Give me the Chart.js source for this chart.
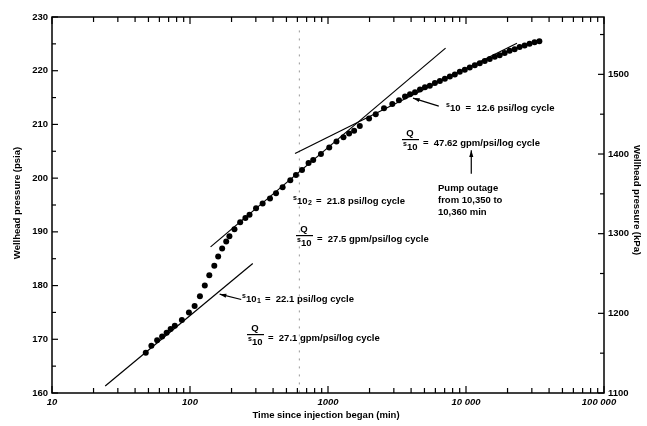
<!DOCTYPE html>
<html>
<head>
<meta charset="utf-8">
<script src="https://cdn.jsdelivr.net/npm/chart.js@4"></script>
<style>html,body{margin:0;background:#fff;}</style>
</head>
<body>
<canvas id="chart" width="647" height="426"></canvas>
<script>
// measured points: time since injection began (min) / wellhead pressure (psia)
var timeMin = [47.8, 52.5, 57.8, 62.8, 67.7, 72.4, 77.6, 87.3, 98.2, 108, 118, 128, 138, 150, 160,
  171, 183, 193, 210, 231, 252, 270, 301, 336, 380, 420, 469, 533, 586, 648, 723, 781, 889,
  1021, 1152, 1294, 1422, 1546, 1700, 1985, 2218, 2546, 2924, 3268, 3614, 3929, 4270, 4640,
  5040, 5470, 5950, 6470, 7030, 7640, 8300, 9020, 9800, 10650, 11580, 12580, 13670, 14860,
  16150, 17540, 19060, 20710, 22520, 24470, 26590, 28890, 31400, 34000];
var pressurePsi = [167.5, 168.8, 169.8, 170.5, 171.2, 171.9, 172.5, 173.6, 175.0, 176.2, 178.0, 180.0,
  181.9, 183.7, 185.4, 186.9, 188.2, 189.2, 190.5, 191.8, 192.6, 193.2, 194.4, 195.3, 196.2, 197.2,
  198.3, 199.6, 200.6, 201.5, 202.8, 203.4, 204.5, 205.7, 206.8, 207.6, 208.3, 208.8, 209.7, 211.1,
  211.9, 213.0, 213.8, 214.5, 215.2, 215.6, 216.0, 216.5, 216.9, 217.2, 217.7, 218.1, 218.5, 218.9,
  219.3, 219.8, 220.2, 220.6, 221.0, 221.4, 221.8, 222.2, 222.6, 222.9, 223.3, 223.7, 224.0, 224.4,
  224.7, 225.0, 225.3, 225.5];

// straight-line fits (semi-log)
var fit1Time = [24.3, 285];   var fit1Psi = [161.3, 184.1];
var fit2Time = [141, 7110];   var fit2Psi = [187.2, 224.2];
var fit3Time = [577, 23400];  var fit3Psi = [204.6, 225.1];
var markTime = [620, 620];    var markPsi = [227.5, 160];

var xTicks = [10, 100, 1000, 10000, 100000];
var xTickLabels = ['10', '100', '1000', '10 000', '100 000'];
var psiTicks = [160, 170, 180, 190, 200, 210, 220, 230];
var kpaTicks = [1100, 1200, 1300, 1400, 1500];

function pts(xs, ys) {
  return xs.map(function (x, i) { return { x: x, y: ys[i] }; });
}

var BOLD = 'bold 9.5px "Liberation Sans", Arial, sans-serif';

function drawS10(ctx, x, y, sub) {
  ctx.textAlign = 'left';
  ctx.textBaseline = 'middle';
  ctx.font = 'bold 7px "Liberation Sans", Arial, sans-serif';
  ctx.fillText('s', x, y - 1);
  ctx.font = BOLD;
  ctx.fillText('10', x + 4, y + 2);
  var w = x + 4 + ctx.measureText('10').width;
  if (sub) {
    ctx.font = 'bold 7px "Liberation Sans", Arial, sans-serif';
    ctx.fillText(sub, w + 0.5, y + 4);
    w += ctx.measureText(sub).width + 0.5;
  }
  return w;
}

function drawFrac(ctx, x, y, rest) {
  // Q over s10
  ctx.fillStyle = '#000';
  ctx.font = BOLD;
  ctx.textAlign = 'center';
  ctx.textBaseline = 'middle';
  ctx.fillText('Q', x + 8, y - 9);
  ctx.fillRect(x, y - 3, 17, 1.2);
  drawS10(ctx, x + 1, y + 3);
  ctx.font = BOLD;
  ctx.textAlign = 'left';
  ctx.fillText(rest, x + 21, y + 1);
}

function arrow(ctx, x1, y1, x2, y2) {
  // from (x1,y1) to tip (x2,y2)
  ctx.beginPath();
  ctx.moveTo(x1, y1);
  ctx.lineTo(x2, y2);
  ctx.lineWidth = 1.2;
  ctx.stroke();
  var a = Math.atan2(y2 - y1, x2 - x1);
  ctx.beginPath();
  ctx.moveTo(x2, y2);
  ctx.lineTo(x2 - 7 * Math.cos(a - 0.3), y2 - 7 * Math.sin(a - 0.3));
  ctx.lineTo(x2 - 7 * Math.cos(a + 0.3), y2 - 7 * Math.sin(a + 0.3));
  ctx.closePath();
  ctx.fill();
}

var frame = {
  id: 'frame',
  afterDraw: function (chart) {
    var ctx = chart.ctx;
    var a = chart.chartArea;
    var sx = chart.scales.x, sy = chart.scales.y, sk = chart.scales.y2;
    ctx.save();
    ctx.strokeStyle = '#000';
    ctx.fillStyle = '#000';

    // box
    ctx.lineWidth = 1.5;
    ctx.strokeRect(a.left, a.top, a.right - a.left, a.bottom - a.top);

    // log ticks, bottom and top, pointing inward
    ctx.lineWidth = 1.2;
    for (var d = 10; d <= 100000; d *= 10) {
      for (var m = 1; m <= 9; m++) {
        if (d === 100000 && m > 1) break;
        var px = sx.getPixelForValue(d * m);
        var len = m === 1 ? 7 : 5;
        ctx.beginPath();
        ctx.moveTo(px, a.bottom); ctx.lineTo(px, a.bottom - len);
        ctx.moveTo(px, a.top); ctx.lineTo(px, a.top + len);
        ctx.stroke();
      }
    }
    // left psi ticks
    for (var p = 160; p <= 230; p += 5) {
      var py = sy.getPixelForValue(p);
      ctx.beginPath();
      ctx.moveTo(a.left, py); ctx.lineTo(a.left + (p % 10 === 0 ? 6 : 4), py);
      ctx.stroke();
    }
    // right kPa ticks
    for (var k = 1100; k <= 1550; k += 50) {
      var ky = sk.getPixelForValue(k);
      ctx.beginPath();
      ctx.moveTo(a.right, ky); ctx.lineTo(a.right - (k % 100 === 0 ? 6 : 4), ky);
      ctx.stroke();
    }

    // tick labels
    ctx.font = BOLD;
    ctx.textBaseline = 'middle';
    ctx.textAlign = 'right';
    psiTicks.forEach(function (v) {
      ctx.fillText(String(v), a.left - 4, sy.getPixelForValue(v));
    });
    ctx.textAlign = 'left';
    kpaTicks.forEach(function (v) {
      ctx.fillText(String(v), a.right + 4, sk.getPixelForValue(v));
    });
    ctx.font = 'italic bold 9.5px "Liberation Sans", Arial, sans-serif';
    ctx.textAlign = 'center';
    xTicks.forEach(function (v, i) {
      ctx.fillText(xTickLabels[i], sx.getPixelForValue(v) - (i === 4 ? 5 : 0), a.bottom + 9);
    });

    // axis titles
    ctx.font = BOLD;
    ctx.fillText('Time since injection began (min)', 326, 415);
    ctx.save();
    ctx.translate(17, 203);
    ctx.rotate(-Math.PI / 2);
    ctx.fillText('Wellhead pressure (psia)', 0, 0);
    ctx.restore();
    ctx.save();
    ctx.translate(637, 200);
    ctx.rotate(Math.PI / 2);
    ctx.fillText('Wellhead pressure (kPa)', 0, 0);
    ctx.restore();

    // annotations
    var e;
    e = drawS10(ctx, 293, 199, '2');
    ctx.font = BOLD; ctx.fillText('=  21.8 psi/log cycle', e + 4, 201);
    drawFrac(ctx, 296, 238, '=  27.5 gpm/psi/log cycle');

    e = drawS10(ctx, 242, 297, '1');
    ctx.font = BOLD; ctx.fillText('=  22.1 psi/log cycle', e + 4, 299);
    drawFrac(ctx, 247, 337, '=  27.1 gpm/psi/log cycle');

    e = drawS10(ctx, 446, 106);
    ctx.font = BOLD; ctx.fillText('=  12.6 psi/log cycle', e + 5, 108);
    drawFrac(ctx, 402, 142, '=  47.62 gpm/psi/log cycle');

    ctx.font = BOLD;
    ctx.textAlign = 'left';
    ctx.fillText('Pump outage', 438, 188);
    ctx.fillText('from 10,350 to', 438, 200);
    ctx.fillText('10,360 min', 438, 212);

    arrow(ctx, sx.getPixelForValue(235), sy.getPixelForValue(177.4), sx.getPixelForValue(164), sy.getPixelForValue(178.4));
    arrow(ctx, sx.getPixelForValue(6350), sy.getPixelForValue(213.4), sx.getPixelForValue(4130), sy.getPixelForValue(214.9));
    arrow(ctx, sx.getPixelForValue(10920), sy.getPixelForValue(200.8), sx.getPixelForValue(10920), sy.getPixelForValue(205.2));

    ctx.restore();
  }
};

new Chart(document.getElementById('chart').getContext('2d'), {
  type: 'scatter',
  data: {
    datasets: [{
      data: pts(timeMin, pressurePsi),
      pointRadius: 3,
      pointBackgroundColor: '#000',
      pointBorderWidth: 0,
      showLine: false
    }, {
      data: pts(fit1Time, fit1Psi),
      showLine: true, pointRadius: 0, borderColor: '#000', borderWidth: 1.2
    }, {
      data: pts(fit2Time, fit2Psi),
      showLine: true, pointRadius: 0, borderColor: '#000', borderWidth: 1.2
    }, {
      data: pts(fit3Time, fit3Psi),
      showLine: true, pointRadius: 0, borderColor: '#000', borderWidth: 1.2
    }, {
      data: pts(markTime, markPsi),
      showLine: true, pointRadius: 0, borderColor: '#999', borderWidth: 1, borderDash: [2, 6]
    }]
  },
  options: {
    responsive: false,
    animation: false,
    layout: { padding: { left: 52, right: 43, top: 17, bottom: 33 } },
    plugins: { legend: { display: false }, tooltip: { enabled: false } },
    scales: {
      x: { type: 'logarithmic', min: 10, max: 100000, display: false },
      y: { min: 160, max: 230, display: false },
      y2: { min: 1100, max: 1572, display: false, position: 'right' }
    }
  },
  plugins: [frame]
});
</script>
</body>
</html>
